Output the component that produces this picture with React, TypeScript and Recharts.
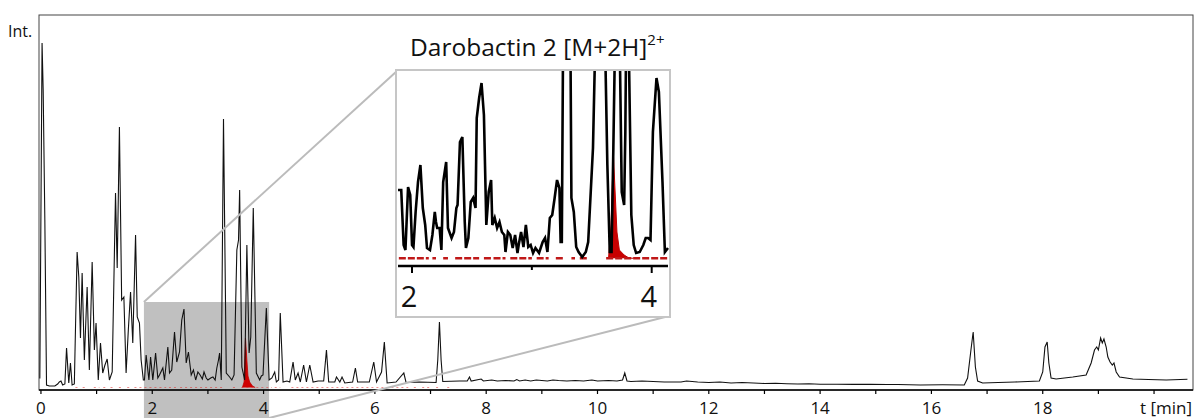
import { ComposedChart, Line, Area, XAxis, YAxis } from "recharts";

// main chromatogram, [t (min), intensity]
const traceEarly: [number, number][] = [
  [-0.03, 12], [-0.02, 12], [0.02, 347], [0.04, 300], [0.07, 170], [0.1, 5],
  [0.15, 4], [0.25, 4], [0.3, 6], [0.33, 8], [0.36, 9], [0.39, 5], [0.43, 6],
  [0.46, 42], [0.5, 7], [0.53, 27], [0.56, 5], [0.6, 6], [0.62, 60], [0.65, 138],
  [0.68, 113], [0.71, 52], [0.74, 117], [0.78, 30], [0.83, 103], [0.87, 20],
  [0.92, 128], [0.96, 40], [0.99, 67], [1.03, 10], [1.07, 47], [1.11, 17],
  [1.15, 25], [1.19, 31], [1.23, 10], [1.28, 18], [1.34, 197], [1.37, 122],
  [1.41, 263], [1.45, 90], [1.49, 93], [1.53, 17], [1.57, 60], [1.61, 98],
  [1.65, 47], [1.7, 155], [1.73, 73], [1.77, 67], [1.8, 30], [1.84, 10],
  [1.86, 10], [1.89, 35], [1.94, 10], [1.97, 33], [2.01, 10], [2.06, 37],
  [2.1, 12], [2.13, 15], [2.19, 22], [2.22, 10], [2.28, 43], [2.31, 17],
  [2.35, 20], [2.4, 58], [2.44, 28], [2.49, 38], [2.53, 70], [2.57, 81],
  [2.61, 27], [2.65, 38], [2.7, 15], [2.74, 20], [2.78, 10], [2.82, 18],
  [2.86, 15], [2.9, 11], [2.93, 18], [2.97, 12], [3.0, 10], [3.05, 12],
  [3.09, 13], [3.13, 10], [3.16, 22], [3.19, 30], [3.21, 37], [3.24, 10],
  [3.28, 271], [3.33, 17], [3.39, 13], [3.43, 10], [3.47, 15], [3.52, 140],
  [3.55, 150], [3.57, 200], [3.61, 23], [3.66, 10], [3.7, 145], [3.74, 37],
  [3.77, 53], [3.815, 182], [3.87, 17], [3.93, 10], [3.96, 14], [3.99, 15],
  [4.05, 82], [4.1, 10],
];

const traceMid: [number, number][] = [
  [4.15, 12], [4.2, 18], [4.23, 8], [4.27, 10], [4.3, 77], [4.35, 8], [4.42, 9],
  [4.47, 8], [4.53, 28], [4.57, 10], [4.62, 17], [4.66, 8], [4.72, 25], [4.77, 8],
  [4.83, 25], [4.89, 8], [4.98, 9], [5.08, 9], [5.13, 40], [5.17, 8], [5.28, 8],
  [5.31, 13], [5.37, 8], [5.41, 13], [5.46, 7], [5.6, 8], [5.65, 22], [5.69, 8],
  [5.9, 8], [5.98, 28], [6.03, 8], [6.12, 18], [6.17, 48], [6.22, 7], [6.38, 8],
  [6.52, 17], [6.56, 7.5], [6.8, 8], [7.1, 7.5], [7.13, 30], [7.16, 68],
  [7.19, 30], [7.22, 8.5], [7.52, 9], [7.66, 9], [7.7, 13], [7.73, 9], [7.91, 11],
  [7.95, 9], [8.1, 10], [8.2, 9], [8.35, 9.5], [8.5, 9], [8.55, 10.5], [8.6, 9],
  [8.7, 10], [8.8, 9], [8.9, 10], [9.0, 9.5], [9.1, 9], [9.2, 10], [9.3, 9.5],
  [9.45, 9], [9.6, 9.5], [9.75, 9], [9.9, 10], [10.0, 9], [10.2, 9.5], [10.35, 9],
  [10.45, 10], [10.49, 17], [10.53, 9], [10.6, 8.5], [10.8, 9], [11.0, 8.5],
  [11.2, 8], [11.5, 8], [11.6, 9], [11.8, 8], [12.0, 7.5], [12.2, 8], [12.4, 7],
  [12.6, 7.5], [12.8, 7], [13.0, 6.5], [13.2, 6.8], [13.4, 6.3], [13.6, 6],
  [13.8, 6.3], [14.0, 5.8], [14.3, 5.8], [14.6, 5.6], [14.9, 5.8], [15.2, 5.5],
];

const traceLate: [number, number][] = [
  [15.4, 5.5], [15.8, 5], [16.2, 5.2], [16.59, 5], [16.65, 12], [16.71, 40],
  [16.75, 58], [16.79, 23], [16.83, 9], [16.92, 7], [17.2, 7.5], [17.5, 8],
  [17.94, 9], [18.0, 18], [18.04, 43], [18.08, 48], [18.11, 27], [18.15, 12],
  [18.24, 11], [18.54, 13], [18.78, 15], [18.87, 27], [18.93, 40], [18.97, 43],
  [19.0, 40], [19.04, 52], [19.07, 47], [19.1, 51], [19.14, 43], [19.17, 33],
  [19.21, 28], [19.25, 25], [19.28, 27], [19.32, 18], [19.38, 13], [19.62, 11],
  [19.9, 10.5], [20.22, 10], [20.6, 10.7],
];

// Darobactin 2 extracted ion trace
const redPeakMain: [number, number][] = [
  [3.62, 2.5], [3.65, 8], [3.675, 52], [3.7, 30], [3.72, 14], [3.75, 8], [3.8, 4], [3.85, 2.5],
];
const redBaseMain: [number, number][] = [
  [0.62, 0.68], [0.75, 0.8], [0.95, 1.05], [1.12, 1.16], [1.25, 1.3], [1.4, 1.45],
  [1.55, 1.62], [1.68, 2.25], [2.3, 2.45], [2.5, 3.3], [3.45, 3.5], [3.6, 4.15],
  [4.2, 4.3], [4.5, 6.6], [6.7, 6.75], [6.85, 7.0], [7.1, 7.15], [7.3, 7.35],
];

// zoomed inset, same run, 1.88 - 4.14 min
const insetTrace: [number, number][] = [
  [1.883, 76], [1.91, 76], [1.93, 21], [1.945, 16], [1.967, 79], [1.985, 71],
  [2.0, 21], [2.012, 19], [2.03, 54], [2.05, 84], [2.07, 101], [2.09, 58],
  [2.11, 41], [2.125, 18], [2.15, 16], [2.17, 31], [2.19, 54], [2.2, 44],
  [2.21, 38], [2.23, 38], [2.245, 16], [2.26, 84], [2.285, 104], [2.3, 38],
  [2.33, 28], [2.35, 34], [2.37, 58], [2.38, 61], [2.4, 124], [2.42, 129],
  [2.44, 44], [2.45, 18], [2.47, 28], [2.49, 64], [2.51, 68], [2.53, 58],
  [2.54, 148], [2.56, 168], [2.58, 183], [2.6, 151], [2.62, 41], [2.64, 74],
  [2.66, 86], [2.67, 41], [2.69, 48], [2.71, 38], [2.73, 44], [2.75, 34],
  [2.77, 31], [2.78, 14], [2.8, 34], [2.82, 31], [2.84, 18], [2.86, 31],
  [2.88, 13], [2.89, 21], [2.91, 34], [2.93, 19], [2.95, 41], [2.97, 19],
  [2.99, 21], [3.01, 13], [3.03, 18], [3.06, 13], [3.09, 24], [3.11, 28],
  [3.13, 14], [3.15, 48], [3.17, 51], [3.19, 68], [3.21, 86], [3.23, 78],
  [3.24, 24], [3.25, 24], [3.28, 600], [3.32, 260], [3.33, 68], [3.35, 54],
  [3.37, 19], [3.39, 14], [3.42, 9], [3.45, 14], [3.47, 24], [3.51, 118],
  [3.57, 450], [3.61, 230], [3.63, 101], [3.65, 14], [3.665, 14], [3.68, 118],
  [3.71, 350], [3.73, 250], [3.75, 74], [3.77, 61], [3.78, 134], [3.8, 420],
  [3.805, 250], [3.83, 51], [3.85, 21], [3.87, 13], [3.9, 14], [3.93, 21],
  [3.95, 28], [3.97, 28], [3.99, 26], [4.01, 134], [4.04, 188], [4.06, 174],
  [4.09, 84], [4.11, 14], [4.136, 18],
];
const redPeakInset: [number, number][] = [
  [3.64, 7.7], [3.66, 40], [3.68, 113], [3.7, 60], [3.71, 34], [3.73, 16],
  [3.77, 11], [3.81, 8], [3.85, 7.7],
];
const redBaseInset: [number, number][] = [
  [1.89, 2.14], [2.17, 2.2], [2.26, 2.3], [2.36, 2.56], [2.6, 2.66], [2.68, 2.78],
  [2.82, 3.0], [3.04, 3.14], [3.2, 3.26], [3.33, 3.36], [3.4, 3.47], [3.62, 4.13],
];

const mainTicks = [0, 1, 2, 3, 4, 5, 6, 7, 8, 9, 10, 11, 12, 13, 14, 15, 16, 17, 18, 19, 20];
const mainLabels = [0, 2, 4, 6, 8, 10, 12, 14, 16, 18];
const insetTicks = [2, 3, 4];
const insetLabels = [2, 4];

const T_MIN = -0.035;
const T_MAX = 20.7;
const V_MAX = 375;
const IN_T_MIN = 1.883;
const IN_T_MAX = 4.136;
const IN_V_MAX = 195;

// layout
const W = 1196;
const H = 418;
const PX0 = 39;
const PX1 = 1193;
const PY0 = 15;
const PY1 = 390;
const INSET = { left: 397, top: 71, width: 272, height: 245, plotH: 195 };
const ZOOM = { t0: 1.85, t1: 4.1, top: 88 };

const mx = (t: number) => PX0 + ((t - T_MIN) / (T_MAX - T_MIN)) * (PX1 - PX0);
const my = (v: number) => PY1 - (v / V_MAX) * (PY1 - PY0);

const rows = (pairs: [number, number][]) => pairs.map(([t, v]) => ({ t, v }));
const segRows = (segs: [number, number][], level: number) =>
  segs.flatMap(([a, b]) => [
    { t: a, v: level },
    { t: b, v: level },
    { t: b, v: null as number | null },
  ]);

const mainData = rows([...traceEarly, ...traceMid, ...traceLate]);
const FONT = "'Open Sans', 'Noto Sans', sans-serif";

function MainTick(props: any) {
  const { x, y, payload } = props;
  const labeled = mainLabels.includes(payload.value);
  return (
    <g>
      <line x1={x} x2={x} y1={y} y2={y + 4} stroke="#000" strokeWidth={1.2} />
      {labeled && (
        <text x={x} y={y + 24} textAnchor="middle" fontSize={17} fill="#111" fontFamily={FONT}>
          {payload.value}
        </text>
      )}
    </g>
  );
}

function InsetTick(props: any) {
  const { x, y, payload } = props;
  const labeled = insetLabels.includes(payload.value);
  return (
    <g>
      <line x1={x} x2={x} y1={y} y2={y + (labeled ? 7 : 4)} stroke="#000" strokeWidth={2} />
      {labeled && (
        <text x={x - 3} y={y + 41} textAnchor="middle" fontSize={29} fill="#111" fontFamily={FONT}>
          {payload.value}
        </text>
      )}
    </g>
  );
}

export default function App() {
  const zx0 = mx(ZOOM.t0);
  const zx1 = mx(ZOOM.t1);
  const zy0 = my(ZOOM.top);
  return (
    <div style={{ position: "absolute", left: 0, top: 0, width: W, height: H, background: "#fff", fontFamily: FONT }}>
      <svg width={W} height={H} style={{ position: "absolute", left: 0, top: 0 }}>
        <rect x={zx0} y={zy0} width={zx1 - zx0} height={H - zy0} fill="#c0c0c0" />
        <rect x={PX0} y={PY0} width={PX1 - PX0} height={PY1 - PY0} fill="none" stroke="#444" strokeWidth={1} />
      </svg>

      <div style={{ position: "absolute", left: 0, top: 0 }}>
        <ComposedChart width={W} height={H} margin={{ top: PY0, right: W - PX1, bottom: 0, left: PX0 }}>
          <XAxis
            dataKey="t"
            type="number"
            domain={[T_MIN, T_MAX]}
            ticks={mainTicks}
            interval={0}
            height={H - PY1}
            tickSize={0}
            tickMargin={0}
            tickLine={false}
            tick={<MainTick />}
            axisLine={{ stroke: "#000", strokeWidth: 1.5 }}
          />
          <YAxis hide domain={[0, V_MAX]} />
          <Line
            data={segRows(redBaseMain, 2.5)}
            dataKey="v"
            stroke="#e03030"
            strokeOpacity={0.55}
            strokeWidth={1.2}
            strokeDasharray="2 3"
            dot={false}
            isAnimationActive={false}
          />
          <Area
            data={rows(redPeakMain)}
            dataKey="v"
            baseValue={2.5}
            stroke="#c00000"
            strokeWidth={0.8}
            fill="#d00000"
            fillOpacity={1}
            isAnimationActive={false}
          />
          <Line
            data={mainData}
            dataKey="v"
            stroke="#111"
            strokeWidth={1.1}
            dot={false}
            isAnimationActive={false}
          />
        </ComposedChart>
      </div>

      <svg width={W} height={H} style={{ position: "absolute", left: 0, top: 0, pointerEvents: "none" }}>
        <line x1={zx0} y1={zy0} x2={INSET.left} y2={INSET.top} stroke="#bbb" strokeWidth={2} />
        <line x1={zx1} y1={H} x2={INSET.left + INSET.width} y2={INSET.top + INSET.height} stroke="#bbb" strokeWidth={2} />
        <text x={8} y={37} fontSize={16} fill="#111" fontFamily={FONT}>Int.</text>
        <text x={1140} y={414} fontSize={17} fill="#111" fontFamily={FONT}>t [min]</text>
        <text x={410} y={56} fontSize={24.5} fill="#111" fontFamily={FONT}>
          Darobactin 2 [M+2H]
          <tspan fontSize={15} dy={-11}>2+</tspan>
        </text>
      </svg>

      <div
        style={{
          position: "absolute",
          left: INSET.left,
          top: INSET.top,
          width: INSET.width,
          height: INSET.height,
          background: "#fff",
          outline: "2px solid #c6c6c6",
        }}
      >
        <ComposedChart
          width={INSET.width}
          height={INSET.height}
          margin={{ top: 0, right: 1, bottom: 0, left: 1 }}
        >
          <XAxis
            dataKey="t"
            type="number"
            domain={[IN_T_MIN, IN_T_MAX]}
            ticks={insetTicks}
            interval={0}
            height={INSET.height - INSET.plotH}
            tickSize={0}
            tickMargin={0}
            tickLine={false}
            tick={<InsetTick />}
            axisLine={{ stroke: "#000", strokeWidth: 2.5 }}
          />
          <YAxis hide domain={[0, IN_V_MAX]} allowDataOverflow />
          <Line
            data={segRows(redBaseInset, 7.7)}
            dataKey="v"
            stroke="#c01818"
            strokeWidth={2.4}
            strokeDasharray="7 2"
            dot={false}
            isAnimationActive={false}
          />
          <Area
            data={rows(redPeakInset)}
            dataKey="v"
            baseValue={7.7}
            stroke="#c00000"
            strokeWidth={1}
            fill="#c80000"
            fillOpacity={1}
            isAnimationActive={false}
          />
          <Line
            data={rows(insetTrace)}
            dataKey="v"
            stroke="#000"
            strokeWidth={2.6}
            dot={false}
            isAnimationActive={false}
          />
        </ComposedChart>
      </div>
    </div>
  );
}
